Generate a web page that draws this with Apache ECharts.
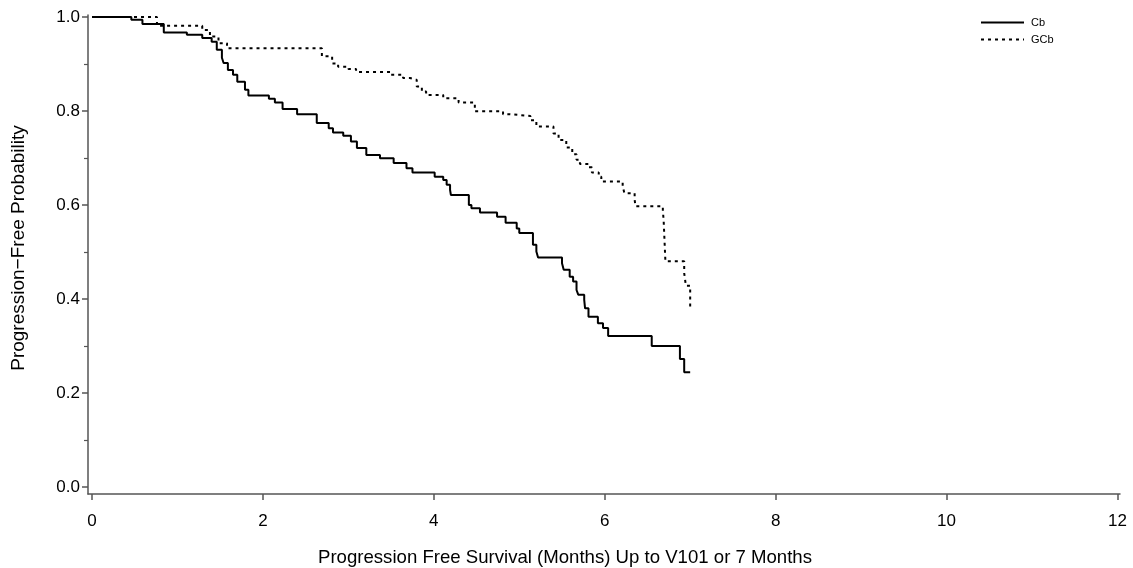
<!DOCTYPE html>
<html>
<head>
<meta charset="utf-8">
<script src="https://cdn.jsdelivr.net/npm/echarts@6/dist/echarts.min.js"></script>
<style>
  html, body { margin: 0; padding: 0; background: #ffffff; }
  #chart { width: 1133px; height: 568px; }
</style>
</head>
<body>
<div id="chart"></div>
<script>
// Kaplan-Meier step estimates: months since start and survival probability at each step
const cbMonths = [0, 0.46, 0.59, 0.84, 1.11, 1.29, 1.40, 1.46, 1.52, 1.54, 1.59, 1.65, 1.70, 1.79, 1.83,
  2.07, 2.14, 2.23, 2.40, 2.63, 2.77, 2.82, 2.94, 3.03, 3.10, 3.21, 3.37, 3.53, 3.68, 3.75,
  4.01, 4.11, 4.15, 4.19, 4.20, 4.41, 4.44, 4.54, 4.74, 4.84, 4.97, 5.00, 5.16, 5.20, 5.22,
  5.50, 5.52, 5.59, 5.63, 5.67, 5.69, 5.76, 5.77, 5.81, 5.92, 5.98, 6.04, 6.55, 6.88, 6.93, 7.00];
const cbProb = [1.0, 0.994, 0.985, 0.967, 0.962, 0.955, 0.947, 0.930, 0.913, 0.902, 0.887, 0.877, 0.862, 0.845, 0.833,
  0.826, 0.818, 0.804, 0.793, 0.774, 0.763, 0.754, 0.747, 0.735, 0.721, 0.706, 0.699, 0.689, 0.678, 0.669,
  0.660, 0.653, 0.643, 0.632, 0.621, 0.600, 0.593, 0.584, 0.575, 0.562, 0.550, 0.540, 0.515, 0.501, 0.488,
  0.476, 0.462, 0.447, 0.437, 0.419, 0.409, 0.398, 0.380, 0.362, 0.348, 0.338, 0.321, 0.300, 0.272, 0.244, 0.244];

const gcbMonths = [0, 0.76, 1.29, 1.38, 1.48, 1.58, 2.69, 2.81, 2.88, 3.00, 3.09, 3.49, 3.64, 3.72, 3.80, 3.86,
  3.91, 4.11, 4.29, 4.48, 4.81, 4.89, 5.13, 5.20, 5.40, 5.46, 5.55, 5.62, 5.67, 5.71, 5.81, 5.85,
  5.93, 5.96, 6.21, 6.23, 6.35, 6.36, 6.68, 6.69, 6.71, 6.93, 6.95, 7.00];
const gcbProb = [1.0, 0.981, 0.972, 0.958, 0.944, 0.933, 0.916, 0.901, 0.894, 0.889, 0.883, 0.877, 0.870, 0.866, 0.852, 0.841,
  0.834, 0.827, 0.818, 0.799, 0.793, 0.789, 0.780, 0.767, 0.752, 0.738, 0.722, 0.708, 0.696, 0.687, 0.680, 0.669,
  0.660, 0.650, 0.640, 0.625, 0.611, 0.597, 0.589, 0.565, 0.480, 0.455, 0.428, 0.384];

// Tick positions for both axes
const xTickValues = [0, 2, 4, 6, 8, 10, 12];
const yTickValues = [0, 0.2, 0.4, 0.6, 0.8, 1.0];
const yMinorTickValues = [0.1, 0.3, 0.5, 0.7, 0.9];

const groupNames = ['Cb', 'GCb'];
const xTitle = 'Progression Free Survival (Months) Up to V101 or 7 Months';
const yTitle = 'Progression\u2212Free Probability';

const pairs = (xs, ys) => xs.map((x, i) => [x, ys[i]]);

const axisColor = '#555555';
const font = 'Liberation Sans, Arial, sans-serif';

// Axis ranges leave a small gap so the frame corner sits just outside the origin
const xRange = { min: -0.047, max: 12.03 };
const yRange = { min: -0.015, max: 1.004 };

const chart = echarts.init(document.getElementById('chart'), null, { renderer: 'canvas' });
chart.setOption({
  animation: false,
  backgroundColor: '#ffffff',
  grid: { left: 88, right: 13, top: 15, bottom: 74, containLabel: false, outerBoundsMode: 'none' },
  legend: {
    orient: 'vertical',
    left: 980,
    top: 17,
    padding: 0,
    itemWidth: 43,
    itemHeight: 12,
    itemGap: 6,
    itemStyle: { opacity: 0 },
    textStyle: { fontFamily: font, fontSize: 11, color: '#000000', padding: [0, 0, 0, 2] },
    data: groupNames
  },
  xAxis: {
    type: 'value',
    min: xRange.min,
    max: xRange.max,
    name: xTitle,
    nameLocation: 'middle',
    nameGap: 54,
    nameTextStyle: { fontFamily: font, fontSize: 18.6, color: '#000000', padding: [0, 78, 0, 0] },
    axisLine: { show: true, onZero: false, lineStyle: { color: axisColor, width: 1.5 } },
    axisTick: { show: true, length: 6, customValues: xTickValues, lineStyle: { color: axisColor, width: 1.5 } },
    axisLabel: { fontFamily: font, fontSize: 17, color: '#000000', margin: 19, customValues: xTickValues },
    splitLine: { show: false }
  },
  yAxis: [
    {
      type: 'value',
      min: yRange.min,
      max: yRange.max,
      name: yTitle,
      nameLocation: 'middle',
      nameGap: 60,
      nameRotate: 90,
      nameTextStyle: { fontFamily: font, fontSize: 19, color: '#000000', padding: [0, 0, 0, 13] },
      axisLine: { show: true, onZero: false, lineStyle: { color: axisColor, width: 1.5 } },
      axisTick: { show: true, length: 6, customValues: yTickValues, lineStyle: { color: axisColor, width: 1.5 } },
      axisLabel: {
        fontFamily: font, fontSize: 17, color: '#000000', margin: 8,
        customValues: yTickValues,
        formatter: v => v.toFixed(1)
      },
      splitLine: { show: false }
    },
    {
      // minor ticks between the labelled values
      type: 'value',
      position: 'left',
      min: yRange.min,
      max: yRange.max,
      axisLine: { show: false, onZero: false },
      axisTick: { show: true, length: 4, customValues: yMinorTickValues, lineStyle: { color: axisColor, width: 1.2 } },
      axisLabel: { show: false },
      splitLine: { show: false }
    }
  ],
  series: [
    {
      name: groupNames[0],
      type: 'line',
      step: 'end',
      showSymbol: false,
      symbol: 'none',
      data: pairs(cbMonths, cbProb),
      lineStyle: { color: '#000000', width: 2, type: 'solid' },
      itemStyle: { color: '#000000' }
    },
    {
      name: groupNames[1],
      type: 'line',
      step: 'end',
      showSymbol: false,
      symbol: 'none',
      data: pairs(gcbMonths, gcbProb),
      lineStyle: { color: '#000000', width: 2, type: [3, 4] },
      itemStyle: { color: '#000000' }
    }
  ]
});
</script>
</body>
</html>
